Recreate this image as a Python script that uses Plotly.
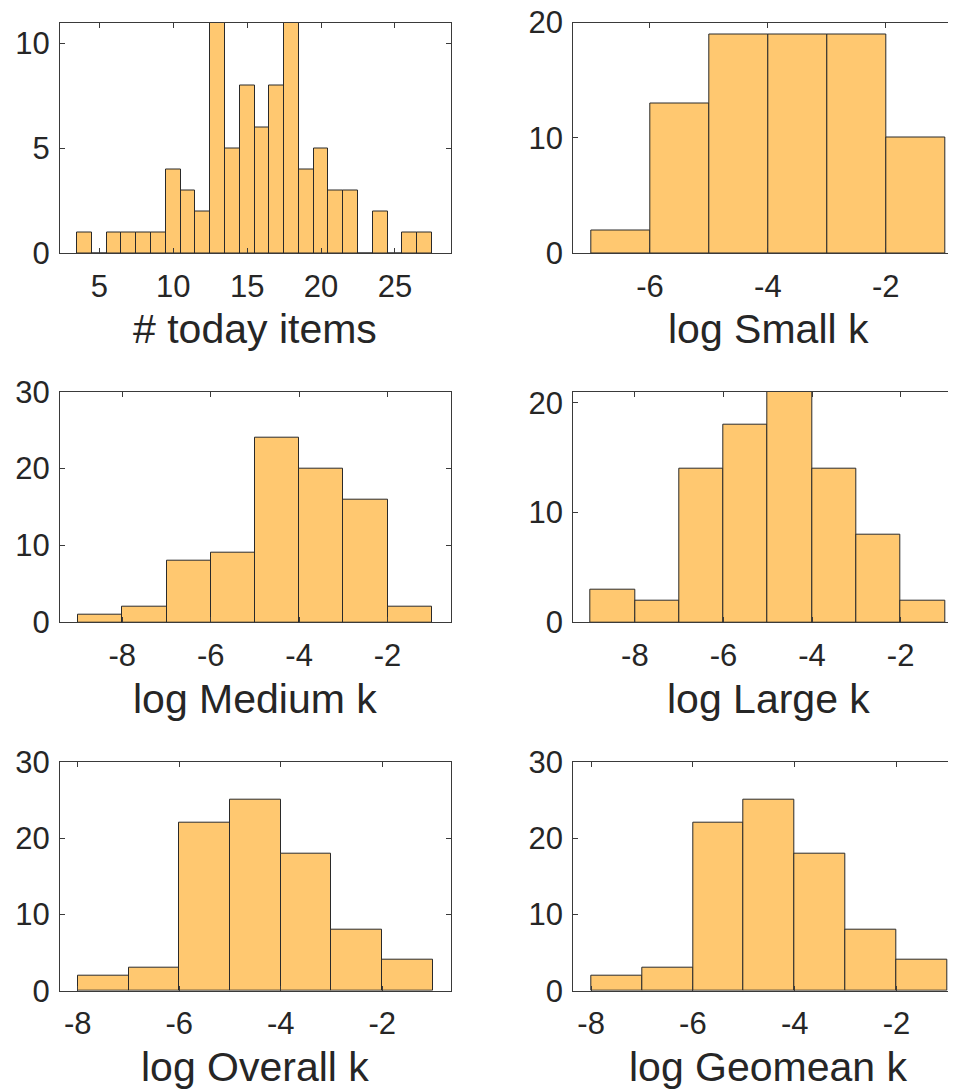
import plotly.graph_objects as go

# ---------------- data ----------------
today_centers = [4, 5, 6, 7, 8, 9, 10, 11, 12, 13, 14, 15, 16, 17, 18, 19, 20,
                 21, 22, 23, 24, 25, 26, 27]
today_counts = [1, 0, 1, 1, 1, 1, 4, 3, 2, 12, 5, 8, 6, 8, 12, 4, 5,
                3, 3, 0, 2, 0, 1, 1]

small_edges = [-7, -6, -5, -4, -3, -2]
small_counts = [2, 13, 19, 19, 19, 10]

medium_edges = [-9, -8, -7, -6, -5, -4, -3, -2]
medium_counts = [1, 2, 8, 9, 24, 20, 16, 2]

large_edges = [-9, -8, -7, -6, -5, -4, -3, -2]
large_counts = [3, 2, 14, 18, 21, 14, 8, 2]

overall_edges = [-8, -7, -6, -5, -4, -3, -2]
overall_counts = [2, 3, 22, 25, 18, 8, 4]

geomean_edges = [-8, -7, -6, -5, -4, -3, -2]
geomean_counts = [2, 3, 22, 25, 18, 8, 4]

titles = ["# today items", "log Small k", "log Medium k",
          "log Large k", "log Overall k", "log Geomean k"]

x_ticks_today = [5, 10, 15, 20, 25]
x_ticks_small = [-6, -4, -2]
x_ticks_log = [-8, -6, -4, -2]

# ---------------- style ----------------
PAGE_W, PAGE_H = 956, 1090
OFF = 8  # default page body margin
W, H = PAGE_W - OFF, PAGE_H - OFF
BAR = "#FFC870"
EDGE = "#2a2a2a"
AX = "#3a3a3a"
TXT = "#262626"
FONT = "Liberation Sans, Arial, Helvetica, sans-serif"
TICK_FS = 31
TITLE_FS = 41

# panel geometry (page pixels)
left_col = (60, 450.7)
right_col = (573.3, 956)
rows = [(22.5, 253.3), (391.7, 622.3), (761.7, 990.7)]
title_centers_y = [329, 699, 1067]
title_center_x = [255.4, 768]


def px(v):
    return (v - OFF) / W


def py(v):
    return 1 - (v - OFF) / H


panels = [
    dict(x=today_centers, y=today_counts, xr=[2.34, 28.77], yr=[0, 11],
         xt=x_ticks_today, yt=[0, 5, 10]),
    dict(x=[e + 0.5 for e in small_edges], y=small_counts, xr=[-7.3, -0.81],
         yr=[0, 20], xt=x_ticks_small, yt=[0, 10, 20]),
    dict(x=[e + 0.5 for e in medium_edges], y=medium_counts, xr=[-9.41, -0.57],
         yr=[0, 30], xt=x_ticks_log, yt=[0, 10, 20, 30]),
    dict(x=[e + 0.5 for e in large_edges], y=large_counts, xr=[-9.39, -0.75],
         yr=[0, 21], xt=x_ticks_log, yt=[0, 10, 20]),
    dict(x=[e + 0.5 for e in overall_edges], y=overall_counts, xr=[-8.35, -0.65],
         yr=[0, 30], xt=x_ticks_log, yt=[0, 10, 20, 30]),
    dict(x=[e + 0.5 for e in geomean_edges], y=geomean_counts, xr=[-8.35, -0.83],
         yr=[0, 30], xt=x_ticks_log, yt=[0, 10, 20, 30]),
]

fig = go.Figure()
layout = {}
annotations = []

for i, p in enumerate(panels):
    r, c = divmod(i, 2)
    n = "" if i == 0 else str(i + 1)
    col = left_col if c == 0 else right_col
    top, bot = rows[r]
    fig.add_trace(go.Bar(
        x=p["x"], y=p["y"], width=1.0,
        marker=dict(color=BAR, line=dict(color=EDGE, width=1)),
        xaxis="x" + n, yaxis="y" + n, showlegend=False,
    ))
    layout["xaxis" + n] = dict(
        domain=[px(col[0]), min(1.0, px(col[1]))], range=p["xr"], anchor="y" + n,
        tickmode="array", tickvals=p["xt"], ticktext=[str(v) for v in p["xt"]],
        ticks="inside", ticklen=5, tickcolor=AX, tickwidth=1,
        showline=True, linecolor=AX, linewidth=1, mirror="ticks",
        showgrid=False, zeroline=False, automargin=False,
        tickfont=dict(family=FONT, size=TICK_FS, color=TXT),
        ticklabelstandoff=5, ticklabeloverflow="allow",
    )
    layout["yaxis" + n] = dict(
        domain=[py(bot), py(top)], range=p["yr"], anchor="x" + n,
        tickmode="array", tickvals=p["yt"], ticktext=[str(v) for v in p["yt"]],
        ticks="inside", ticklen=5, tickcolor=AX, tickwidth=1,
        showline=True, linecolor=AX, linewidth=1,
        mirror="ticks" if c == 0 else False,
        showgrid=False, zeroline=False, automargin=False,
        tickfont=dict(family=FONT, size=TICK_FS, color=TXT),
        ticklabelstandoff=3, ticklabeloverflow="allow",
    )
    annotations.append(dict(
        text=titles[i], x=px(title_center_x[c]), y=py(title_centers_y[r]),
        xref="paper", yref="paper", xanchor="center", yanchor="middle",
        showarrow=False, font=dict(family=FONT, size=TITLE_FS, color=TXT),
    ))

fig.update_layout(
    width=W, height=H, margin=dict(l=0, r=0, t=0, b=0, autoexpand=False),
    paper_bgcolor="white", plot_bgcolor="white",
    bargap=0, annotations=annotations, **layout,
)

fig.write_html("out.html")
